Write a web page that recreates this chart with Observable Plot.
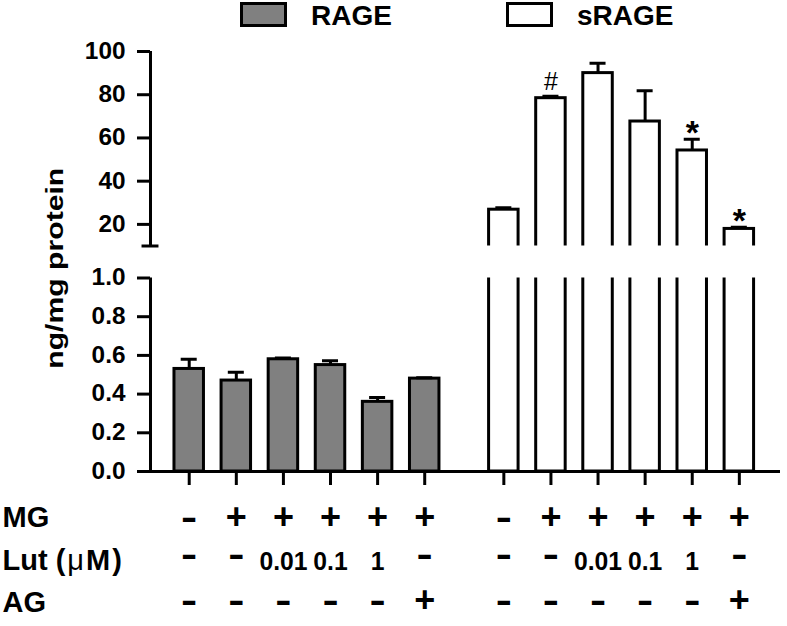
<!DOCTYPE html>
<html><head><meta charset="utf-8">
<script src="https://cdn.jsdelivr.net/npm/d3@7"></script>
<script src="https://cdn.jsdelivr.net/npm/@observablehq/plot@0.6"></script>
<style>
body{margin:0;background:#fff;font-family:"Liberation Sans",Arial,sans-serif;color:#000;}
#legend{position:relative;width:787px;height:32px;}
.box{position:absolute;box-sizing:border-box;border:3px solid #000;top:2px;height:25px;}
.lab{position:absolute;top:2px;font-size:28px;line-height:28px;font-weight:bold;color:#000;white-space:nowrap;}
#chart{position:relative;width:787px;height:594px;}
#chart svg{position:absolute;left:0;top:0;}
</style></head><body>
<div id="legend"></div><div id="chart"></div>
<script>
// ---- data ----
const groups = ["RAGE", "sRAGE"];
const groupColors = ["#808080", "#ffffff"];
const rageMean = [0.53, 0.47, 0.58, 0.55, 0.36, 0.48];
const rageSEM  = [0.05, 0.043, 0.006, 0.022, 0.022, 0.005];
const sRageMean = [26.8, 78.4, 90.0, 67.6, 54.2, 17.9];
const sRageSEM  = [0.9, 0.9, 4.6, 14.2, 5.2, 0.8];
const sRageSig  = ["", "#", "", "", "*", "*"];
const mgRow  = ["-", "+", "+", "+", "+", "+"];
const lutRow = ["-", "-", "0.01", "0.1", "1", "-"];
const agRow  = ["-", "-", "-", "-", "-", "+"];
const rowLabels = ["MG", "Lut (\u03bcM)", "AG"];
const upperTicks = [20, 40, 60, 80, 100];
const lowerTicks = [0, 0.2, 0.4, 0.6, 0.8, 1.0];
const upperDomain = [10, 100];
const lowerDomain = [0, 1];
const yTitle = "ng/mg protein";

// ---- layout constants ----
const groupOffset = 6.68;
const xDomain = [-0.822, 12.554];
const halfBar = 0.313, capHalf = 0.17;
const font = "Liberation Sans, Arial, sans-serif";

const bars = [];
groups.forEach((g, gi) => {
  const means = gi === 0 ? rageMean : sRageMean;
  const sems = gi === 0 ? rageSEM : sRageSEM;
  means.forEach((m, i) => bars.push({
    group: g, x: i + gi * groupOffset, value: m, err: sems[i],
    mg: mgRow[i], lut: lutRow[i], ag: agRow[i], sig: gi === 1 ? sRageSig[i] : ""
  }));
});

// legend
const legend = document.getElementById("legend");
const boxLeft = [240, 506], labLeft = [311, 577];
groups.forEach((g, gi) => {
  const b = document.createElement("div");
  b.className = "box"; b.style.left = boxLeft[gi] + "px"; b.style.width = "47px";
  b.style.background = groupColors[gi];
  legend.appendChild(b);
  const t = document.createElement("div");
  t.className = "lab"; t.style.left = labLeft[gi] + "px"; t.textContent = g;
  legend.appendChild(t);
});

const barMarks = () => [
  Plot.rect(bars, {x1: d => d.x - halfBar, x2: d => d.x + halfBar, y1: 0, y2: "value",
    fill: "group", stroke: "black", strokeWidth: 3, clip: true}),
  Plot.ruleX(bars, {x: "x", y1: "value", y2: d => d.value + d.err, stroke: "black", strokeWidth: 3, clip: true}),
  Plot.ruleY(bars, {y: d => d.value + d.err, x1: d => d.x - capHalf, x2: d => d.x + capHalf,
    stroke: "black", strokeWidth: 3, clip: true})
];
const style = {background: "transparent", fontFamily: font, fontWeight: "bold", color: "black"};

const upper = Plot.plot({
  width: 787, height: 594,
  marginLeft: 150, marginRight: 7, marginTop: 19, marginBottom: 380.5,
  x: {domain: xDomain, axis: null},
  y: {domain: upperDomain},
  color: {domain: groups, range: groupColors},
  style,
  marks: [
    ...barMarks(),
    Plot.ruleX([xDomain[0]], {y1: upperDomain[0], y2: upperDomain[1], strokeWidth: 3}),
    Plot.ruleY([upperDomain[0]], {x1: xDomain[0] - 0.18, x2: xDomain[0] + 0.18, strokeWidth: 3}),
    Plot.axisY({ticks: upperTicks, tickSize: 13, tickPadding: 12, strokeWidth: 3, fontSize: 23,
      label: null, tickFormat: d => String(d)}),
    Plot.text(bars.filter(d => d.sig === "#"), {x: "x", y: d => d.value + d.err, text: "sig",
      lineAnchor: "bottom", dy: -6, fontSize: 25, fontWeight: "normal"}),
    Plot.text(bars.filter(d => d.sig === "*"), {x: "x", y: d => d.value + d.err, text: "sig",
      lineAnchor: "bottom", dy: 5, fontSize: 34})
  ]
});

const rowKeys = ["mg", "lut", "ag"];
const symDy = [57, 94, 140], numDy = [57, 98, 140], labDy = [55, 98, 140];
const rowMarks = [];
rowKeys.forEach((k, r) => {
  rowMarks.push(Plot.text(bars.filter(d => d[k] === "-" || d[k] === "+"), {x: "x", text: k,
    frameAnchor: "bottom", lineAnchor: "bottom", dy: symDy[r], fontSize: 36, ariaDescription: "rowsym"}));
  rowMarks.push(Plot.text(bars.filter(d => d[k] !== "-" && d[k] !== "+"), {x: "x", text: k,
    frameAnchor: "bottom", lineAnchor: "bottom", dy: numDy[r], fontSize: 26, ariaDescription: "rownum"}));
  rowMarks.push(Plot.text([rowLabels[r]], {text: d => d, frameAnchor: "bottom-left", textAnchor: "start",
    lineAnchor: "bottom", dx: -148, dy: labDy[r], fontSize: 29, ariaDescription: "rowlabel"}));
});

const lower = Plot.plot({
  width: 787, height: 594,
  marginLeft: 150, marginRight: 7, marginTop: 245.5, marginBottom: 155,
  x: {domain: xDomain, axis: null},
  y: {domain: lowerDomain},
  color: {domain: groups, range: groupColors},
  style,
  marks: [
    ...barMarks(),
    Plot.ruleX([xDomain[0]], {y1: lowerDomain[0], y2: lowerDomain[1], strokeWidth: 3}),
    Plot.ruleY([lowerDomain[0]], {strokeWidth: 3}),
    Plot.axisY({ticks: lowerTicks, tickSize: 13, tickPadding: 12, strokeWidth: 3, fontSize: 23,
      label: null, tickFormat: d3.format(".1f")}),
    Plot.axisX({ticks: bars.map(d => d.x), tickSize: 14, strokeWidth: 3, tickFormat: () => "", label: null}),
    ...rowMarks,
    Plot.text([yTitle], {text: d => d, frameAnchor: "left", rotate: -90, textAnchor: "middle",
      lineAnchor: "middle", dx: -95, dy: -106.5, fontSize: 23, ariaDescription: "ytitle"})
  ]
});

const chart = document.getElementById("chart");
chart.appendChild(upper);
chart.appendChild(lower);

function squeeze(sel, s) {
  sel.each(function () {
    const x = parseFloat(this.getAttribute("x")) || 0;
    const y = parseFloat(this.getAttribute("y")) || 0;
    const t = this.getAttribute("transform") || "";
    this.setAttribute("transform", `${t} translate(${x},${y}) scale(${s},1) translate(${-x},${-y})`);
  });
}
[upper, lower].forEach(svg => {
  squeeze(d3.select(svg).selectAll('g[aria-label="y-axis tick label"] text'), 1.06);
});
squeeze(d3.select(lower).selectAll('g[aria-description="rownum"] text'), 0.95);
squeeze(d3.select(lower).selectAll('g[aria-description="rowsym"] text').filter(function () {
  return this.textContent === "-";
}), 1.35);
d3.select(lower).selectAll('g[aria-description="ytitle"] text')
  .attr("textLength", 201).attr("lengthAdjust", "spacingAndGlyphs");
// the micro sign is set in a regular weight, as in the figure
d3.select(lower).selectAll('g[aria-description="rowlabel"] text').each(function () {
  const s = this.textContent;
  const k = s.indexOf("\u03bc");
  if (k < 0) return;
  this.textContent = "";
  const sel = d3.select(this);
  sel.append("tspan").text(s.slice(0, k));
  sel.append("tspan").attr("font-weight", "normal").attr("dx", 2).text(s[k]);
  sel.append("tspan").attr("dx", 2).text(s.slice(k + 1, -1));
  sel.append("tspan").attr("dx", 2).text(s.slice(-1));
});
</script>
</body></html>
